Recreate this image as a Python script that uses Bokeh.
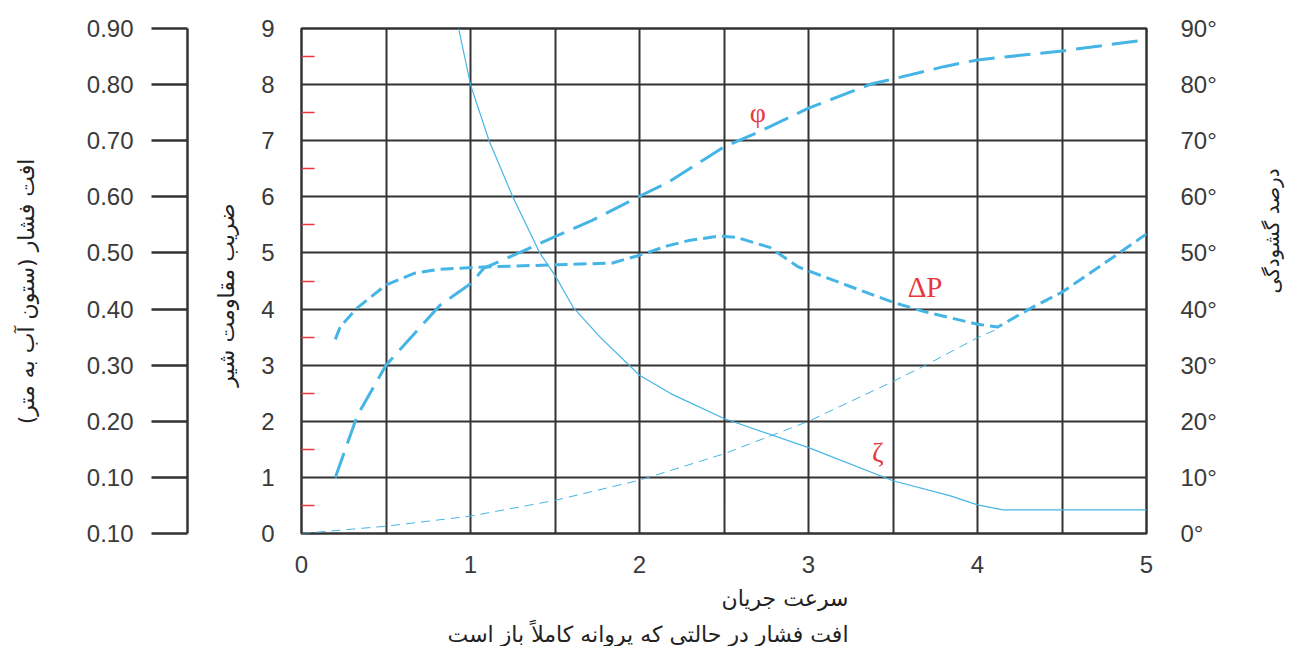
from math import pi
from bokeh.plotting import figure
from bokeh.models import (Range1d, LinearAxis, SingleIntervalTicker, FixedTicker,
                          CustomJSTickFormatter, Label, Title)
from bokeh.embed import file_html
from bokeh.resources import INLINE

# ---------------- data ----------------
# zeta : valve resistance coefficient (middle axis 0..9)
zeta_x = [0.93, 1.0, 1.11, 1.25, 1.41, 1.5, 1.61, 1.77, 2.0, 2.2, 2.5, 3.0, 3.5, 3.84, 4.0, 4.15, 5.0]
zeta_y = [9.0, 8.0, 7.0, 6.0, 5.0, 4.6, 4.02, 3.49, 2.82, 2.47, 2.05, 1.53, 0.94, 0.67, 0.51, 0.42, 0.42]

# phi : opening angle in degrees (right axis)
phi_x = [0.2, 0.33, 0.5, 0.67, 0.82, 1.0, 1.08, 1.3, 1.5, 1.72, 2.0, 2.17, 2.5, 2.7, 3.0, 3.37, 3.5, 3.8, 4.0, 4.375, 4.5, 5.0]
phi_deg = [10, 21, 30, 35.7, 40.7, 44.5, 47.3, 50.2, 52.9, 55.8, 60.1, 62.6, 68.9, 71.5, 75.8, 80.1, 81, 83.2, 84.4, 85.6, 86, 88]

# delta P : pressure drop (left axis, m water column)
dp_x = [0.2, 0.23, 0.33, 0.5, 0.67, 0.82, 1.08, 1.51, 1.84, 2.0, 2.17, 2.29, 2.47, 2.57, 2.77, 2.94, 3.15, 3.5, 3.69, 4.0, 4.12, 4.33, 4.5, 4.83, 5.0]
dp_y = [0.346, 0.369, 0.402, 0.443, 0.464, 0.471, 0.475, 0.479, 0.482, 0.496, 0.513, 0.522, 0.530, 0.528, 0.510, 0.475, 0.451, 0.412, 0.395, 0.373, 0.368, 0.404, 0.430, 0.498, 0.534]

# pressure drop with the valve fully open (left axis)
open_x = [0.0, 0.5, 1.0, 1.5, 2.0, 2.5, 3.0, 3.5, 3.7, 4.0, 4.13]
open_y = [0.0, 0.013, 0.031, 0.059, 0.095, 0.142, 0.200, 0.271, 0.301, 0.349, 0.366]

x_ticks = [0, 1, 2, 3, 4, 5]
mid_ticks = [0, 1, 2, 3, 4, 5, 6, 7, 8, 9]
mid_minor = [0.5, 1.5, 2.5, 3.5, 4.5, 5.5, 6.5, 7.5, 8.5]
dp_ticks = [0.0, 0.1, 0.2, 0.3, 0.4, 0.5, 0.6, 0.7, 0.8, 0.9]
deg_ticks = [0, 10, 20, 30, 40, 50, 60, 70, 80, 90]

left_title = "افت فشار (ستون آب به متر)"
mid_title = "ضریب مقاومت شیر"
right_title = "درصد گشودگی"
x_title1 = "سرعت جریان"
x_title2 = "افت فشار در حالتی که پروانه کاملاً باز است"

RLM = "\u200F"
NBSP = "\u00A0"
EMSP = "\u2003"

BLUE = "#45b5e5"
RED = "#e8383d"
DARK = "#333333"
TXT = "#3a3a3a"
NUM_FONT = "Liberation Sans"
FA_FONT = "DejaVu Sans"
FA_SIZE = "22px"

p = figure(width=1298, height=646, output_backend="svg", toolbar_location=None,
           x_range=Range1d(0, 5), y_range=Range1d(0, 9),
           min_border_left=301, min_border_right=152, min_border_top=28, min_border_bottom=112)
p.extra_y_ranges = {"dp": Range1d(0, 0.9), "deg": Range1d(0, 90)}

p.outline_line_color = DARK
p.outline_line_width = 2.5
p.background_fill_color = "white"
p.border_fill_color = "white"

# grid
p.xgrid.ticker = SingleIntervalTicker(interval=0.5)
p.ygrid.ticker = SingleIntervalTicker(interval=1)
for g in (p.xgrid, p.ygrid):
    g.grid_line_color = DARK
    g.grid_line_width = 2
    g.grid_line_alpha = 1.0

# x axis
xa = p.xaxis[0]
xa.ticker = FixedTicker(ticks=x_ticks)
xa.axis_line_color = None
xa.major_tick_line_color = None
xa.minor_tick_line_color = None
xa.major_tick_out = 0
xa.major_label_standoff = 22
xa.major_label_text_font = NUM_FONT
xa.major_label_text_font_size = "24px"
xa.major_label_text_color = TXT

# middle axis (resistance coefficient)
ya = p.yaxis[0]
ya.ticker = FixedTicker(ticks=mid_ticks, minor_ticks=mid_minor)
ya.axis_line_color = None
ya.major_tick_line_color = None
ya.major_tick_out = 0
ya.major_tick_in = 0
ya.minor_tick_line_color = RED
ya.minor_tick_line_width = 1.5
ya.minor_tick_in = 13
ya.minor_tick_out = 0
ya.major_label_standoff = 27
ya.major_label_text_font = NUM_FONT
ya.major_label_text_font_size = "24px"
ya.major_label_text_color = TXT
ya.axis_label = RLM + NBSP * 4 + mid_title + RLM
ya.axis_label_text_font = FA_FONT
ya.axis_label_text_font_size = FA_SIZE
ya.axis_label_text_font_style = "normal"
ya.axis_label_text_color = "#222222"
ya.axis_label_standoff = 19

# invisible spacer axis between the middle and the left axis
sp = LinearAxis(y_range_name="dp", ticker=FixedTicker(ticks=[]))
sp.axis_line_color = None
sp.major_tick_line_color = None
sp.minor_tick_line_color = None
sp.major_tick_out = 0
sp.major_tick_in = 0
sp.minor_tick_out = 0
sp.major_label_standoff = 0
sp.axis_label = "."
sp.axis_label_text_alpha = 0
sp.axis_label_text_font_size = "10px"
sp.axis_label_standoff = 13
p.add_layout(sp, "left")

# left axis (pressure drop)
la = LinearAxis(y_range_name="dp", ticker=FixedTicker(ticks=dp_ticks),
                formatter=CustomJSTickFormatter(code="return tick < 0.05 ? '0.10' : tick.toFixed(2);"))
la.axis_line_color = DARK
la.axis_line_width = 2.5
la.major_tick_line_color = DARK
la.major_tick_line_width = 2.5
la.major_tick_out = 36
la.major_tick_in = 0
la.minor_tick_line_color = None
la.major_label_standoff = 18
la.major_label_text_font = NUM_FONT
la.major_label_text_font_size = "24px"
la.major_label_text_color = TXT
la.axis_label = RLM + NBSP * 3 + left_title + RLM
la.axis_label_text_font = FA_FONT
la.axis_label_text_font_size = FA_SIZE
la.axis_label_text_font_style = "normal"
la.axis_label_text_color = "#222222"
la.axis_label_standoff = 45
p.add_layout(la, "left")

# right axis (opening angle)
ra = LinearAxis(y_range_name="deg", ticker=FixedTicker(ticks=deg_ticks),
                formatter=CustomJSTickFormatter(code="return Math.round(tick) + '°';"))
ra.axis_line_color = None
ra.major_tick_line_color = None
ra.major_tick_out = 0
ra.major_tick_in = 0
ra.minor_tick_line_color = None
ra.major_label_standoff = 34
ra.major_label_text_font = NUM_FONT
ra.major_label_text_font_size = "24px"
ra.major_label_text_color = TXT
ra.axis_label_text_font = FA_FONT
ra.axis_label_text_font_size = "20px"
ra.axis_label_text_font_style = "normal"
ra.axis_label_text_color = "#222222"
ra.axis_label_standoff = 52
ra.axis_label_orientation = pi / 2
if "axis_label_align" in ra.properties():
    ra.axis_label = RLM + right_title + EMSP * 12 + RLM
    ra.axis_label_align = "start"
else:
    ra.axis_label = right_title
p.add_layout(ra, "right")

# bottom titles (right-aligned at x ~ 3.24)
t1 = Title(text=x_title1, align="right", offset=298, standoff=17,
           text_font=FA_FONT, text_font_size=FA_SIZE, text_font_style="normal", text_color="#222222")
t2 = Title(text=x_title2, align="right", offset=298, standoff=0,
           text_font=FA_FONT, text_font_size=FA_SIZE, text_font_style="normal", text_color="#222222")
p.add_layout(t1, "below")
p.add_layout(t2, "below")

# curves
p.line(open_x, open_y, y_range_name="dp", line_color=BLUE, line_width=1, line_dash="9 6")
p.line(zeta_x, zeta_y, line_color=BLUE, line_width=1.2)
p.line(dp_x, dp_y, y_range_name="dp", line_color=BLUE, line_width=3, line_dash="13 6")
p.line(phi_x, phi_deg, y_range_name="deg", line_color=BLUE, line_width=3, line_dash="26 10")

# curve labels
p.add_layout(Label(x=2.7, y=7.5, text="φ", text_color=RED, text_font="Liberation Serif",
                   text_font_size="28px", text_align="center", text_baseline="middle"))
p.add_layout(Label(x=3.69, y=4.4, text="ΔP", text_color=RED, text_font="Liberation Serif",
                   text_font_size="29px", text_align="center", text_baseline="middle"))
p.add_layout(Label(x=3.41, y=1.45, text="ζ", text_color=RED, text_font="Liberation Serif",
                   text_font_size="28px", text_align="center", text_baseline="middle"))

open("out.html", "w").write(file_html(p, INLINE))
